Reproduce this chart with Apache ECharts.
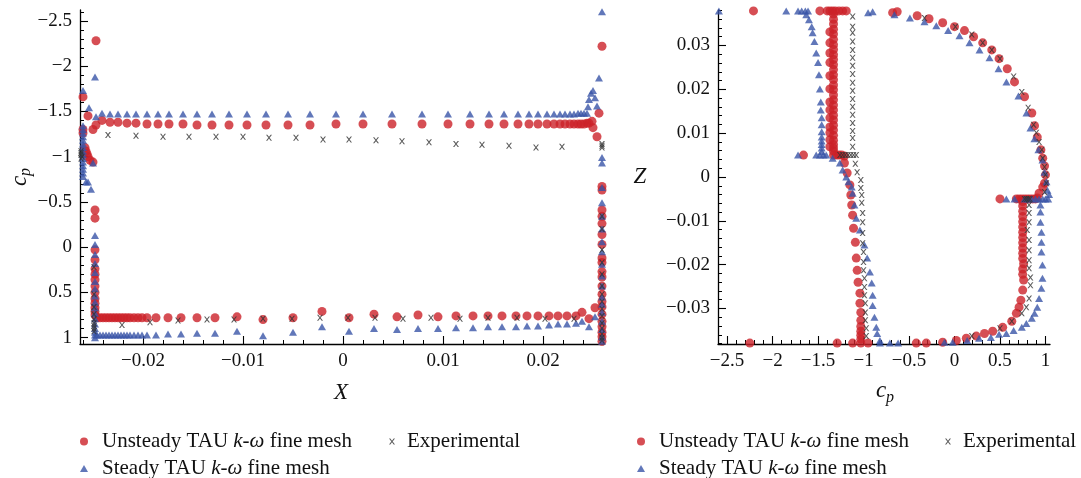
<!DOCTYPE html>
<html><head><meta charset="utf-8">
<script src="https://cdn.jsdelivr.net/npm/echarts@6/dist/echarts.min.js"></script>
<style>html,body{margin:0;padding:0;background:#fff}#c{width:1081px;height:478px}</style>
</head><body><div id="c"></div>
<script>
const NAME_U = 'Unsteady TAU k-\u03C9 fine mesh';
const NAME_S = 'Steady TAU k-\u03C9 fine mesh';
const NAME_E = 'Experimental';

// tick labels
const leftXTicks = [-0.02, -0.01, 0, 0.01, 0.02];
const leftCpTicks = [-2.5, -2, -1.5, -1, -0.5, 0, 0.5, 1];
const rightCpTicks = [-2.5, -2, -1.5, -1, -0.5, 0, 0.5, 1];
const rightZTicks = [-0.03, -0.02, -0.01, 0, 0.01, 0.02, 0.03];

// LEFT PANEL: [X, cp]
const leftUnsteady = [
[-0.0247,-2.28],[-0.0260,-1.66],[-0.0255,-1.45],[-0.0250,-1.30],[-0.0247,-1.35],
[-0.0260,-1.30],[-0.0260,-1.26],[-0.0258,-1.10],[-0.0257,-1.06],[-0.0256,-1.03],[-0.0255,-1.00],[-0.0253,-0.96],[-0.0250,-0.94],
[-0.0248,-0.41],[-0.0248,-0.32],[-0.0248,0.03],[-0.0248,0.14],[-0.0248,0.24],[-0.0248,0.30],[-0.0248,0.36],[-0.0248,0.43],[-0.0248,0.50],[-0.0248,0.57],[-0.0248,0.62],[-0.0248,0.67],[-0.0248,0.71],[-0.0248,0.75],
[-0.0241,-1.40],[-0.0233,-1.38],[-0.0225,-1.38],[-0.0216,-1.37],[-0.0207,-1.37],[-0.0196,-1.36],[-0.0185,-1.36],[-0.0174,-1.36],[-0.0160,-1.36],[-0.0146,-1.35],[-0.0131,-1.35],[-0.0114,-1.35],[-0.0096,-1.35],[-0.0077,-1.35],[-0.0055,-1.35],[-0.0033,-1.35],[-0.0007,-1.36],[0.0020,-1.36],[0.0049,-1.36],[0.0079,-1.36],[0.0105,-1.36],[0.0127,-1.36],[0.0146,-1.36],[0.0161,-1.36],[0.0175,-1.36],[0.0186,-1.36],[0.0195,-1.36],[0.0204,-1.36],[0.0211,-1.36],[0.0217,-1.36],[0.0222,-1.36],[0.0227,-1.36],[0.0231,-1.36],[0.0235,-1.36],[0.0238,-1.36],[0.0241,-1.36],[0.0244,-1.37],[0.0246,-1.37],
[0.0249,-1.39],[0.0250,-1.32],[0.0254,-1.22],[0.0256,-1.48],[0.0259,-2.22],
[0.0259,-0.67],[0.0259,-0.63],[0.0259,-0.41],[0.0259,-0.34],[0.0259,-0.26],[0.0259,-0.14],[0.0259,-0.03],[0.0259,0.12],[0.0259,0.17],[0.0259,0.27],[0.0259,0.33],[0.0259,0.43],[0.0259,0.52],[0.0259,0.60],[0.0259,0.66],[0.0259,0.74],[0.0259,0.82],[0.0259,0.88],[0.0259,0.94],[0.0259,0.99],[0.0259,1.04],
[-0.0246,0.78],[-0.0243,0.78],[-0.0240,0.78],[-0.0237,0.78],[-0.0234,0.78],[-0.0231,0.78],[-0.0228,0.78],[-0.0225,0.78],[-0.0222,0.78],[-0.0219,0.78],[-0.0216,0.78],[-0.0213,0.78],[-0.0209,0.78],[-0.0205,0.78],[-0.0201,0.78],[-0.0196,0.78],[-0.0187,0.78],[-0.0175,0.78],[-0.0162,0.78],[-0.0146,0.78],[-0.0128,0.78],[-0.0106,0.77],[-0.0080,0.80],[-0.0050,0.78],[-0.0021,0.71],[0.0006,0.78],[0.0031,0.74],[0.0054,0.77],[0.0075,0.75],[0.0095,0.77],[0.0113,0.76],[0.0130,0.76],[0.0145,0.76],[0.0159,0.76],[0.0173,0.76],[0.0184,0.76],[0.0195,0.76],[0.0206,0.76],[0.0215,0.76],[0.0224,0.76],[0.0233,0.76],[0.0239,0.72],[0.0246,0.79],[0.0252,0.67]
];
const leftSteady = [
[-0.0260,-1.73],[-0.0254,-1.54],[-0.0248,-1.88],[-0.0247,-1.44],
[-0.0260,-1.34],[-0.0260,-1.30],[-0.0260,-1.26],[-0.0260,-1.22],[-0.0260,-1.18],[-0.0260,-1.14],[-0.0260,-1.10],[-0.0260,-1.06],[-0.0260,-1.02],[-0.0260,-0.98],[-0.0260,-0.94],[-0.0260,-0.90],[-0.0260,-0.86],[-0.0260,-0.82],[-0.0260,-0.78],[-0.0257,-0.72],[-0.0255,-0.72],[-0.0252,-0.64],[-0.0250,-0.93],
[-0.0248,-0.13],[-0.0248,-0.03],[-0.0248,0.08],[-0.0248,0.18],[-0.0248,0.28],[-0.0248,0.38],[-0.0248,0.46],[-0.0248,0.54],[-0.0248,0.61],[-0.0248,0.67],[-0.0248,0.73],[-0.0248,0.79],[-0.0248,0.85],[-0.0248,0.90],[-0.0248,0.94],[-0.0248,0.97],[-0.0248,1.00],
[-0.0241,-1.48],[-0.0233,-1.47],[-0.0225,-1.47],[-0.0216,-1.47],[-0.0207,-1.47],[-0.0196,-1.47],[-0.0185,-1.47],[-0.0174,-1.47],[-0.0160,-1.47],[-0.0146,-1.47],[-0.0131,-1.47],[-0.0114,-1.47],[-0.0096,-1.47],[-0.0077,-1.47],[-0.0055,-1.47],[-0.0033,-1.47],[-0.0007,-1.47],[0.0020,-1.47],[0.0049,-1.47],[0.0079,-1.47],[0.0105,-1.47],[0.0127,-1.47],[0.0146,-1.47],[0.0161,-1.47],[0.0175,-1.47],[0.0186,-1.47],[0.0195,-1.47],[0.0204,-1.47],[0.0211,-1.47],[0.0217,-1.47],[0.0222,-1.47],[0.0227,-1.47],[0.0231,-1.47],[0.0235,-1.48],[0.0238,-1.48],[0.0241,-1.48],[0.0244,-1.48],
[0.0245,-1.55],[0.0246,-1.63],[0.0248,-1.70],[0.0250,-1.73],[0.0252,-1.65],[0.0254,-1.56],[0.0256,-1.87],[0.0259,-2.60],
[0.0259,-0.99],[0.0259,-0.93],[0.0259,-0.66],[0.0259,-0.49],[0.0259,-0.34],[0.0259,-0.20],[0.0259,-0.06],[0.0259,0.05],[0.0259,0.19],[0.0259,0.32],[0.0259,0.43],[0.0259,0.55],[0.0259,0.63],[0.0259,0.72],[0.0259,0.82],[0.0259,0.91],[0.0259,0.99],[0.0259,1.04],
[-0.0246,0.97],[-0.0243,0.97],[-0.0240,0.97],[-0.0237,0.97],[-0.0234,0.97],[-0.0231,0.97],[-0.0228,0.97],[-0.0225,0.97],[-0.0222,0.97],[-0.0219,0.97],[-0.0216,0.97],[-0.0213,0.97],[-0.0209,0.97],[-0.0205,0.97],[-0.0201,0.97],[-0.0196,0.97],[-0.0187,0.97],[-0.0175,0.96],[-0.0162,0.96],[-0.0146,0.95],[-0.0128,0.95],[-0.0106,0.93],[-0.0080,0.98],[-0.0050,0.94],[-0.0021,0.88],[0.0006,0.93],[0.0031,0.90],[0.0054,0.91],[0.0075,0.90],[0.0095,0.90],[0.0113,0.89],[0.0130,0.89],[0.0145,0.88],[0.0159,0.88],[0.0173,0.88],[0.0184,0.87],[0.0195,0.87],[0.0206,0.86],[0.0215,0.85],[0.0224,0.85],[0.0233,0.84],[0.0239,0.82],[0.0246,0.88],[0.0252,0.77]
];
const leftExp = [
[-0.0262,-1.06],[-0.0262,-1.04],[-0.0262,-1.02],[-0.0261,-1.00],[-0.0262,-0.98],
[-0.0235,-1.24],[-0.0207,-1.23],[-0.0180,-1.22],[-0.0154,-1.22],[-0.0127,-1.22],[-0.0100,-1.22],[-0.0074,-1.21],[-0.0047,-1.21],[-0.0020,-1.19],[0.0006,-1.19],[0.0033,-1.18],[0.0059,-1.17],[0.0086,-1.16],[0.0113,-1.14],[0.0139,-1.13],[0.0166,-1.12],[0.0193,-1.10],[0.0219,-1.11],
[0.0259,-1.14],[0.0259,-1.12],[0.0259,-1.10],
[0.0259,-0.34],[0.0259,-0.20],[0.0259,0.03],[0.0259,0.17],[0.0259,0.30],[0.0259,0.43],[0.0259,0.52],[0.0259,0.60],[0.0259,0.68],[0.0259,0.76],[0.0259,0.84],[0.0259,0.90],[0.0259,0.96],[0.0259,1.00],[0.0259,1.03],
[-0.0249,0.22],[-0.0249,0.52],[-0.0249,0.66],[-0.0249,0.74],[-0.0249,0.80],[-0.0249,0.84],[-0.0249,0.87],[-0.0249,0.90],[-0.0249,0.93],
[-0.0221,0.86],[-0.0193,0.83],[-0.0165,0.81],[-0.0136,0.80],[-0.0109,0.80],[-0.0080,0.79],[-0.0051,0.79],[-0.0023,0.78],[0.0005,0.78],[0.0032,0.78],[0.0060,0.79],[0.0088,0.78],[0.0117,0.79],[0.0145,0.78],[0.0174,0.78],[0.0202,0.79],[0.0231,0.79]
];

// RIGHT PANEL: [cp, Z]
const rightUnsteady = [
[-2.21,0.0379],[-1.48,0.0379],[-1.40,0.0379],[-1.37,0.0379],[-1.34,0.0379],[-1.31,0.0379],[-1.27,0.0379],[-1.23,0.0379],[-1.19,0.0379],
[-1.37,0.0331],[-1.37,0.0306],[-1.37,0.0283],[-1.37,0.0261],[-1.37,0.0231],[-1.37,0.0201],[-1.37,0.0171],[-1.37,0.0153],[-1.37,0.0135],[-1.37,0.0114],[-1.37,0.0101],[-1.37,0.0085],[-1.37,0.0069],
[-1.33,0.0372],[-1.33,0.0360],[-1.33,0.0349],[-1.33,0.0337],[-1.33,0.0326],[-1.33,0.0314],[-1.33,0.0302],[-1.33,0.0291],[-1.33,0.0279],[-1.33,0.0268],[-1.33,0.0256],[-1.33,0.0245],[-1.33,0.0233],[-1.33,0.0222],[-1.33,0.0210],[-1.33,0.0199],[-1.33,0.0187],[-1.33,0.0176],[-1.33,0.0164],[-1.33,0.0153],[-1.33,0.0141],[-1.33,0.0130],[-1.33,0.0118],[-1.33,0.0107],[-1.33,0.0095],[-1.33,0.0084],[-1.33,0.0074],[-1.33,0.0066],[-1.33,0.0059],
[-1.66,0.0050],[-1.33,0.0050],[-1.30,0.0050],[-1.27,0.0050],[-1.24,0.0050],[-1.21,0.0048],
[-1.21,0.0032],[-1.18,0.0009],[-1.15,-0.0018],[-1.14,-0.0041],[-1.13,-0.0064],[-1.12,-0.0087],[-1.11,-0.0117],[-1.09,-0.0149],[-1.08,-0.0185],[-1.07,-0.0213],[-1.06,-0.0240],[-1.04,-0.0265],[-1.04,-0.0288],[-1.03,-0.0309],[-1.03,-0.0327],[-1.03,-0.0341],[-1.03,-0.0352],[-1.03,-0.0361],[-1.03,-0.0370],
[-2.25,-0.0379],[-1.29,-0.0379],[-1.12,-0.0379],[-1.03,-0.0379],[-0.95,-0.0379],[-0.42,-0.0379],[-0.31,-0.0379],[-0.13,-0.0377],[0.02,-0.0373],[0.13,-0.0368],[0.24,-0.0363],[0.33,-0.0357],[0.42,-0.0352],[0.53,-0.0343],[0.63,-0.0329],[0.68,-0.0311],[0.71,-0.0297],[0.73,-0.0281],[0.75,-0.0258],[0.76,-0.0235],
[0.75,-0.0222],[0.75,-0.0210],[0.76,-0.0198],[0.75,-0.0186],[0.75,-0.0174],[0.75,-0.0162],[0.75,-0.0150],[0.75,-0.0138],[0.75,-0.0126],[0.75,-0.0114],[0.75,-0.0102],[0.75,-0.0090],[0.75,-0.0078],[0.75,-0.0066],[0.75,-0.0056],
[0.50,-0.0050],[0.68,-0.0050],[0.71,-0.0050],[0.74,-0.0050],[0.77,-0.0050],[0.80,-0.0050],[0.83,-0.0050],[0.86,-0.0050],[0.89,-0.0050],[0.91,-0.0048],[0.93,-0.0037],
[-0.68,0.0375],[-0.63,0.0377],[-0.41,0.0368],[-0.28,0.0361],[-0.13,0.0352],[0.00,0.0343],[0.11,0.0334],[0.21,0.0320],[0.31,0.0306],[0.41,0.0290],[0.49,0.0270],[0.58,0.0247],[0.66,0.0217],[0.77,0.0183],[0.85,0.0146],[0.88,0.0117],[0.91,0.0091],[0.95,0.0062],[0.97,0.0043],[0.99,0.0025],[1.00,0.0005],[0.99,-0.0014],[0.97,-0.0023]
];
const rightSteady = [
[-2.59,0.0379],[-1.85,0.0379],[-1.72,0.0379],[-1.68,0.0379],[-1.64,0.0379],[-1.61,0.0379],[-0.95,0.0375],[-0.90,0.0377],[-0.66,0.0370],
[-1.63,0.0370],[-1.60,0.0359],[-1.57,0.0343],[-1.56,0.0329],[-1.54,0.0309],[-1.52,0.0283],[-1.50,0.0261],[-1.49,0.0233],[-1.48,0.0201],[-1.47,0.0171],[-1.47,0.0153],[-1.46,0.0135],[-1.46,0.0119],[-1.46,0.0103],[-1.46,0.0091],[-1.46,0.0082],[-1.46,0.0074],[-1.46,0.0066],[-1.46,0.0058],
[-1.72,0.0050],[-1.52,0.0050],[-1.48,0.0050],[-1.44,0.0050],[-1.41,0.0050],
[-1.34,0.0043],[-1.26,0.0032],[-1.23,0.0016],[-1.19,0.0000],[-1.165,-0.0011],[-1.13,-0.0023],[-1.12,-0.0037],[-1.10,-0.0064],[-1.08,-0.0094],[-1.04,-0.0121],[-0.99,-0.0155],[-0.96,-0.0185],[-0.93,-0.0217],[-0.91,-0.0242],[-0.90,-0.0270],[-0.90,-0.0293],[-0.88,-0.0320],[-0.86,-0.0343],[-0.85,-0.0357],[-0.82,-0.0373],
[-0.82,-0.0379],[-0.71,-0.0379],[-0.62,-0.0379],[-0.11,-0.0377],[-0.02,-0.0377],[0.14,-0.0373],[0.27,-0.0368],[0.40,-0.0366],[0.49,-0.0359],[0.57,-0.0357],[0.65,-0.0350],[0.74,-0.0343],[0.79,-0.0334],[0.85,-0.0322],[0.88,-0.0311],[0.91,-0.0297],[0.93,-0.0277],[0.955,-0.0254],[0.967,-0.0231],[0.967,-0.0201],[0.956,-0.0171],[0.956,-0.0149],[0.956,-0.0126],[0.945,-0.0103],[0.945,-0.0080],[0.945,-0.0064],
[0.57,-0.0050],[0.66,-0.0050],[0.77,-0.0050],[0.81,-0.0050],[0.85,-0.0050],[0.89,-0.0050],[0.93,-0.0050],[0.97,-0.0050],[1.00,-0.0050],[1.03,-0.0050],
[-0.49,0.0363],[-0.33,0.0354],[-0.20,0.0345],[-0.07,0.0334],[0.055,0.0322],[0.165,0.0306],[0.275,0.0290],[0.385,0.0272],[0.484,0.0247],[0.571,0.0217],[0.703,0.0185],[0.791,0.0146],[0.835,0.0112],[0.879,0.0087],[0.923,0.0062],[0.967,0.0039],[0.989,0.0011],[1.011,-0.0011],[1.022,-0.0030],[1.04,-0.0040]
];
const rightExp = [
[-1.12,0.0366],[-1.12,0.0343],[-1.12,0.0329],[-1.12,0.0309],[-1.12,0.0290],[-1.12,0.0272],[-1.12,0.0254],[-1.12,0.0235],[-1.12,0.0215],[-1.12,0.0197],[-1.12,0.0178],[-1.12,0.0160],[-1.12,0.0142],[-1.12,0.0123],[-1.12,0.0105],[-1.12,0.0089],[-1.12,0.0069],
[-1.26,0.0050],[-1.23,0.0050],[-1.20,0.0050],[-1.17,0.0050],[-1.14,0.0050],[-1.11,0.0050],[-1.08,0.0050],
[-1.09,0.0030],[-1.07,0.0011],[-1.03,-0.0007],[-1.03,-0.0025],[-1.02,-0.0041],[-1.02,-0.0059],[-1.01,-0.0082],[-1.01,-0.0103],[-1.01,-0.0128],[-1.01,-0.0151],[-1.00,-0.0171],[-1.00,-0.0194],[-1.00,-0.0213],[-0.99,-0.0231],[-0.99,-0.0251],[-0.99,-0.0270],[-0.98,-0.0288],[-0.98,-0.0309],[-0.98,-0.0327],[-0.97,-0.0345],[-0.97,-0.0363],
[-0.33,0.0363],[0.01,0.0343],[0.19,0.0325],[0.31,0.0306],[0.41,0.0290],[0.50,0.0270],[0.65,0.0229],[0.74,0.0194],[0.81,0.0158],[0.87,0.0119],[0.90,0.0101],[0.93,0.0080],[0.96,0.0062],[0.97,0.0043],[0.99,0.0023],[1.00,0.0005],[1.01,-0.0014],[0.99,-0.0034],
[0.77,-0.0050],[0.79,-0.0050],[0.81,-0.0050],[0.83,-0.0050],
[0.82,-0.0064],[0.82,-0.0082],[0.82,-0.0103],[0.80,-0.0121],[0.82,-0.0144],[0.82,-0.0167],[0.82,-0.0190],[0.82,-0.0208],[0.835,-0.0229],[0.835,-0.0247],[0.82,-0.0277],[0.79,-0.0297],[0.74,-0.0311],[0.63,-0.0329],[0.50,-0.0345],[0.19,-0.0363]
];

const RED = '#cc2229', BLUE = '#3a55a8', BLACK = '#333333';
const XPATH = 'path://M0,0H2.2L5,3.6L7.8,0H10L6.1,5L10,10H7.8L5,6.4L2.2,10H0L3.9,5Z';
const TRIPATH = 'path://M5,0L10,8.7H0Z';
const SERIF = 'Liberation Serif';

function minorTicks(a, b, step) {
  const out = []; const n = Math.round((b - a) / step);
  for (let i = 0; i <= n; i++) out.push(+(a + i * step).toFixed(6));
  return out;
}
const fmt = v => (v < 0 ? '\u2212' : '') + String(Math.abs(v));

function axisPair(kind, grid, min, max, majors, minors, inverse, labelMargin) {
  const base = { type: 'value', gridIndex: grid, min: min, max: max, inverse: !!inverse,
    position: kind === 'x' ? 'bottom' : 'left', offset: 0, splitLine: { show: false } };
  const major = Object.assign({}, base, {
    axisLine: { show: true, onZero: false, lineStyle: { color: '#000', width: 1.3 } },
    axisTick: { show: true, inside: true, length: 8, customValues: majors, lineStyle: { color: '#000', width: 1.1 } },
    axisLabel: { show: true, customValues: majors, formatter: fmt, fontFamily: SERIF, fontSize: 19, color: '#111', margin: labelMargin }
  });
  const minor = Object.assign({}, base, {
    axisLine: { show: false, onZero: false },
    axisTick: { show: true, inside: true, length: 4, customValues: minors, lineStyle: { color: '#000', width: 1 } },
    axisLabel: { show: false }
  });
  return [major, minor];
}

const xAxes = [
  ...axisPair('x', 0, -0.0263, 0.0261, leftXTicks, minorTicks(-0.026, 0.026, 0.002), false, 8),
  ...axisPair('x', 1, -2.6, 1.05, rightCpTicks, minorTicks(-2.6, 1.0, 0.1), false, 8)
];
const yAxes = [
  ...axisPair('y', 0, -2.62, 1.07, leftCpTicks, minorTicks(-2.6, 1.0, 0.1), true, 8),
  ...axisPair('y', 1, -0.0381, 0.0381, rightZTicks, minorTicks(-0.038, 0.038, 0.002), false, 8)
];

function sc(name, data, xi, yi, kind) {
  const s = { type: 'scatter', name: name, data: data, xAxisIndex: xi, yAxisIndex: yi, animation: false,
    emphasis: { disabled: true } };
  if (kind === 'u') Object.assign(s, { symbol: 'circle', symbolSize: 9, itemStyle: { color: RED }, z: 2 });
  if (kind === 's') Object.assign(s, { symbol: 'triangle', symbolSize: [8, 7], itemStyle: { color: BLUE }, z: 3 });
  if (kind === 'e') Object.assign(s, { symbol: XPATH, symbolSize: [6, 6], itemStyle: { color: BLACK }, z: 4 });
  return s;
}

const rich = {
  r: { fontFamily: SERIF, fontSize: 21, color: '#111' },
  i: { fontFamily: SERIF, fontSize: 21, fontStyle: 'italic', color: '#111' }
};
function legendFmt(name) {
  const p = name.split('k-\u03C9');
  if (p.length === 2) return '{r|' + p[0] + '}{i|k-\u03C9}{r|' + p[1] + '}';
  return '{r|' + name + '}';
}
function lg(name, icon, left, top, w, h) {
  return { show: true, left: left, top: top, padding: 0, itemGap: 0, itemWidth: w, itemHeight: h,
    selectedMode: false, data: [{ name: name, icon: icon }], formatter: legendFmt,
    textStyle: { fontFamily: SERIF, fontSize: 21, color: '#111', rich: rich } };
}

function title(x, y, t, size, rot) {
  return { type: 'text', x: x, y: y, rotation: rot || 0,
    style: { text: t, fontFamily: SERIF, fontStyle: 'italic', fontSize: size, fill: '#111', align: 'center', verticalAlign: 'middle' } };
}

const option = {
  animation: false,
  grid: [
    { left: 80, top: 10, width: 524, height: 334, containLabel: false },
    { left: 718, top: 10, width: 332, height: 334, containLabel: false }
  ],
  xAxis: xAxes,
  yAxis: yAxes,
  legend: [
    lg(NAME_U, 'circle', 80, 431, 26, 8),
    lg(NAME_E, XPATH, 389, 431, 20, 6),
    lg(NAME_S, TRIPATH, 80, 458, 26, 7),
    lg(NAME_U, 'circle', 637, 431, 26, 8),
    lg(NAME_E, XPATH, 945, 431, 20, 6),
    lg(NAME_S, TRIPATH, 637, 458, 26, 7)
  ],
  graphic: [
    { type: 'group', x: 20, y: 177, rotation: Math.PI / 2, children: [
      title(-4, 0, 'c', 23), title(5, 6, 'p', 16)
    ] },
    title(341, 393, 'X', 23),
    title(640, 177, 'Z', 23),
    title(881, 391, 'c', 23),
    title(890, 398, 'p', 16)
  ],
  series: [
    sc(NAME_U, leftUnsteady, 0, 0, 'u'),
    sc(NAME_S, leftSteady, 0, 0, 's'),
    sc(NAME_E, leftExp, 0, 0, 'e'),
    sc(NAME_U, rightUnsteady, 2, 2, 'u'),
    sc(NAME_S, rightSteady, 2, 2, 's'),
    sc(NAME_E, rightExp, 2, 2, 'e')
  ]
};
const chart = echarts.init(document.getElementById('c'), null, { renderer: 'canvas' });
chart.setOption(option);
</script>
</body></html>
